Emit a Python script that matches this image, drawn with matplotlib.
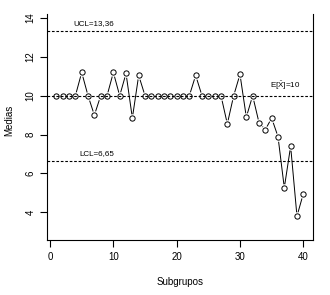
import numpy as np
import matplotlib
matplotlib.use("Agg")
from matplotlib import pyplot as plt

plt.rcParams["font.family"] = ["Liberation Sans", "DejaVu Sans"]
plt.rcParams["mathtext.fontset"] = "custom"
plt.rcParams["mathtext.rm"] = "Liberation Sans"
plt.rcParams["mathtext.it"] = "Liberation Sans"

# subgroup means
subgrupos = list(range(1, 41))
medias = [10, 10, 10, 10, 11.2, 10, 9.0, 10, 10, 11.2,
          10, 11.15, 8.85, 11.05, 10, 10, 10, 10, 10, 10,
          10, 10, 11.05, 10, 10, 10, 10, 8.55, 10, 11.1,
          8.9, 10, 8.62, 8.25, 8.85, 7.9, 5.26, 7.4, 3.8, 4.95]
ucl = 13.36
lcl = 6.65
centro = 10
x_ticks = [0, 10, 20, 30, 40]
y_ticks = [4, 6, 8, 10, 12, 14]

W, H = 330, 295
fig = plt.figure(figsize=(W / 100, H / 100), dpi=100)
ax = fig.add_axes([46.7 / W, 1 - 240 / H, (313.3 - 46.7) / W, (240 - 14) / H])

# type="b": line with gaps around the points
ax.plot(subgrupos, medias, color="black", lw=0.7, zorder=2)
ax.plot(subgrupos, medias, ls="none", marker="o", ms=6.2, mfc="white",
        mec="none", zorder=3)
for v in (ucl, centro, lcl):
    ax.axhline(v, color="black", lw=0.8, dashes=(2.4, 1.6), zorder=4)
ax.plot(subgrupos, medias, ls="none", marker="o", ms=3.8, mfc="none",
        mec="black", mew=0.7, zorder=5)

ax.text(93.7 / 330 * 0 + 6.9, ucl + 0.35, "UCL=13,36", fontsize=5.8,
        ha="center", va="center")
ax.text(7.4, lcl + 0.38, "LCL=6,65", fontsize=5.8, ha="center", va="center")
ax.text(37.2, centro + 0.5, r"E[$\bar{\mathrm{X}}$]=10", fontsize=5.8,
        ha="center", va="center")

ax.set_xlim(-0.53, 41.58)
ax.set_ylim(2.57, 14.21)
ax.set_xticks(x_ticks)
ax.set_yticks(y_ticks)
ax.tick_params(direction="out", length=5, width=0.8, labelsize=7, colors="black")
ax.tick_params(axis="x", pad=3.5)
ax.tick_params(axis="y", pad=3)
for lab in ax.get_yticklabels():
    lab.set_rotation(90)
    lab.set_va("center")
ax.spines["top"].set_visible(False)
for s in ("left", "right", "bottom"):
    ax.spines[s].set_linewidth(0.8)

fig.text(180 / W, 1 - 282 / H, "Subgrupos", fontsize=7, ha="center", va="center")
fig.text(9 / W, 1 - 120 / H, "Medias", fontsize=7, ha="center", va="center",
         rotation=90)

fig.savefig("out.png", dpi=100)
